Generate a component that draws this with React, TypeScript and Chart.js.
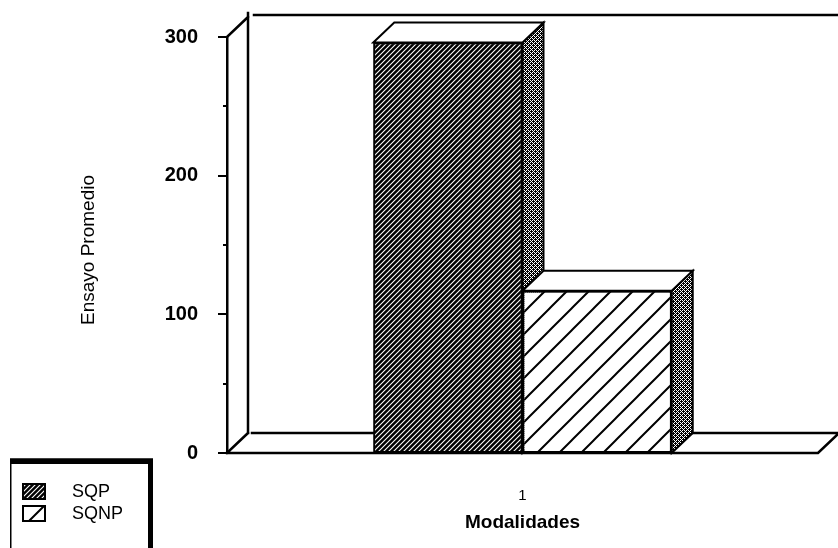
import React, { useEffect, useRef } from 'react';
import { Chart, registerables } from 'chart.js';

Chart.register(...registerables);

const categories = ['1'];
const seriesLabels = ['SQP', 'SQNP'];
const sqpValues = [296];
const sqnpValues = [117];
const yMin = 0;
const yMax = 300;
const yStep = 100;
const yMinorStep = 50;
const yTitle = 'Ensayo Promedio';
const xTitle = 'Modalidades';

const DX = 21;
const DY = 20;
const FONT = "'Liberation Sans', Arial, sans-serif";

function makeTile(size: number, draw: (c: CanvasRenderingContext2D, s: number) => void) {
  const cv = document.createElement('canvas');
  cv.width = size;
  cv.height = size;
  const c = cv.getContext('2d')!;
  draw(c, size);
  return cv;
}

function diagTile(size: number, bg: string, fg: string, lw: number) {
  return makeTile(size, (c, s) => {
    c.fillStyle = bg;
    c.fillRect(0, 0, s, s);
    c.strokeStyle = fg;
    c.lineWidth = lw;
    c.beginPath();
    c.moveTo(-1, s + 1);
    c.lineTo(s + 1, -1);
    c.moveTo(-s / 2 - 1, s / 2 + 1);
    c.lineTo(s / 2 + 1, -s / 2 - 1);
    c.moveTo(s / 2 - 1, s * 1.5 + 1);
    c.lineTo(s * 1.5 + 1, s / 2 - 1);
    c.stroke();
  });
}

function dotTile() {
  return makeTile(4, (c) => {
    c.fillStyle = '#000';
    c.fillRect(0, 0, 4, 4);
    c.fillStyle = '#fff';
    [[0, 0], [2, 2], [1, 3], [3, 1], [2, 0], [0, 2]].forEach(([x, y]) => c.fillRect(x, y, 1, 1));
  });
}

export default function App() {
  const ref = useRef<HTMLCanvasElement | null>(null);

  useEffect(() => {
    const canvas = ref.current;
    if (!canvas) return;
    const ctx0 = canvas.getContext('2d')!;
    const densePat = ctx0.createPattern(diagTile(5, '#000', '#fff', 1.1), 'repeat')!;
    const sparsePat = ctx0.createPattern(diagTile(22, '#fff', '#000', 2), 'repeat')!;
    const dotPat = ctx0.createPattern(dotTile(), 'repeat')!;
    const fills = [densePat, sparsePat];

    const threeD = {
      id: 'threeD',
      beforeDatasetsDraw(chart: any) {
        const { ctx, chartArea, scales } = chart;
        const { left, right, bottom } = chartArea;
        const y = scales.y;
        const yTop = y.getPixelForValue(yMax);
        const W = chart.width;
        ctx.save();
        ctx.strokeStyle = '#000';
        ctx.lineWidth = 2.5;
        ctx.lineCap = 'square';
        ctx.beginPath();
        // back wall
        ctx.moveTo(left, yTop);
        ctx.lineTo(left + DX, yTop - DY);
        ctx.moveTo(left + DX + 6, yTop - DY - 2);
        ctx.lineTo(W, yTop - DY - 2);
        ctx.moveTo(left + DX, yTop - DY - 4);
        ctx.lineTo(left + DX, bottom - DY);
        // floor
        ctx.moveTo(left + DX + 4, bottom - DY);
        ctx.lineTo(W, bottom - DY);
        ctx.moveTo(left, bottom);
        ctx.lineTo(left + DX, bottom - DY);
        ctx.moveTo(left, bottom);
        ctx.lineTo(right, bottom);
        ctx.lineTo(right + DX, bottom - DY);
        ctx.stroke();
        // tick marks
        ctx.lineWidth = 2;
        ctx.beginPath();
        for (let v = yMin; v <= yMax; v += yMinorStep) {
          const py = Math.round(y.getPixelForValue(v));
          const major = v % yStep === 0;
          ctx.moveTo(left - (major ? 8 : 3), py);
          ctx.lineTo(left, py);
        }
        ctx.stroke();
        // y title
        ctx.translate(89, 250);
        ctx.rotate(-Math.PI / 2);
        ctx.fillStyle = '#000';
        ctx.font = `19px ${FONT}`;
        ctx.textAlign = 'center';
        ctx.textBaseline = 'middle';
        ctx.fillText(yTitle, 0, 0);
        ctx.restore();
      },
      afterDatasetsDraw(chart: any) {
        const { ctx } = chart;
        ctx.save();
        chart.data.datasets.forEach((_: any, di: number) => {
          const meta = chart.getDatasetMeta(di);
          meta.data.forEach((el: any) => {
            el.draw(ctx);
            const p = el.getProps(['x', 'y', 'base', 'width'], true);
            const l = p.x - p.width / 2;
            const r = p.x + p.width / 2;
            const t = p.y;
            const b = p.base;
            ctx.lineWidth = 2;
            ctx.strokeStyle = '#000';
            ctx.lineJoin = 'miter';
            // side face
            ctx.beginPath();
            ctx.moveTo(r, t);
            ctx.lineTo(r + DX, t - DY);
            ctx.lineTo(r + DX, b - DY);
            ctx.lineTo(r, b);
            ctx.closePath();
            ctx.fillStyle = dotPat;
            ctx.fill();
            ctx.stroke();
            // top face
            ctx.beginPath();
            ctx.moveTo(l, t);
            ctx.lineTo(l + DX, t - DY);
            ctx.lineTo(r + DX, t - DY);
            ctx.lineTo(r, t);
            ctx.closePath();
            ctx.fillStyle = '#fff';
            ctx.fill();
            ctx.stroke();
          });
        });
        ctx.restore();
      },
      afterDraw(chart: any) {
        const { ctx } = chart;
        ctx.save();
        // legend box
        const bx = 10, by = 459, bw = 143, bh = 95;
        ctx.fillStyle = '#fff';
        ctx.fillRect(bx, by, bw, bh);
        ctx.strokeStyle = '#000';
        ctx.lineWidth = 1.5;
        ctx.strokeRect(bx + 0.75, by, bw - 1.5, bh);
        ctx.fillStyle = '#000';
        ctx.fillRect(bx, by, bw, 5);
        ctx.fillRect(bx + bw - 5, by, 5, bh);
        chart.data.datasets.forEach((ds: any, i: number) => {
          const sy = 484 + i * 22;
          ctx.fillStyle = fills[i];
          ctx.fillRect(23, sy, 22, 15);
          ctx.lineWidth = 2;
          ctx.strokeStyle = '#000';
          ctx.strokeRect(23, sy, 22, 15);
          ctx.fillStyle = '#000';
          ctx.font = `18px ${FONT}`;
          ctx.textAlign = 'left';
          ctx.textBaseline = 'middle';
          ctx.fillText(ds.label, 72, sy + 8);
        });
        ctx.restore();
      },
    };

    const chart = new Chart(canvas, {
      type: 'bar',
      data: {
        labels: categories,
        datasets: [
          {
            label: seriesLabels[0],
            data: sqpValues,
            backgroundColor: densePat as any,
            borderColor: '#000',
            borderWidth: 2,
            borderSkipped: false,
          },
          {
            label: seriesLabels[1],
            data: sqnpValues,
            backgroundColor: sparsePat as any,
            borderColor: '#000',
            borderWidth: 2,
            borderSkipped: false,
          },
        ],
      },
      options: {
        responsive: false,
        animation: false,
        layout: { padding: { top: 37, right: 20, left: 0, bottom: 0 } },
        datasets: { bar: { categoryPercentage: 0.505, barPercentage: 1 } },
        plugins: { legend: { display: false }, tooltip: { enabled: false } },
        scales: {
          x: {
            grid: { display: false },
            border: { display: false },
            ticks: { color: '#000', font: { family: FONT, size: 15 }, padding: 26 },
            title: {
              display: true,
              text: xTitle,
              color: '#000',
              font: { family: FONT, size: 19, weight: 'bold' },
              padding: { top: 0, bottom: 14 },
            },
            afterFit: (s: any) => {
              s.height = 95;
            },
          },
          y: {
            min: yMin,
            max: yMax,
            grid: { display: false },
            border: { display: true, color: '#000', width: 2.5 },
            ticks: {
              stepSize: yStep,
              color: '#000',
              padding: 21,
              font: { family: FONT, size: 20, weight: 'bold' },
            },
            afterFit: (s: any) => {
              s.width = 227;
            },
          },
        },
      },
      plugins: [threeD],
    });
    return () => chart.destroy();
  }, []);

  return (
    <div style={{ position: 'fixed', left: 0, top: 0, width: 838, height: 548, background: '#fff' }}>
      <canvas ref={ref} width={838} height={548} style={{ width: 838, height: 548 }} />
    </div>
  );
}
